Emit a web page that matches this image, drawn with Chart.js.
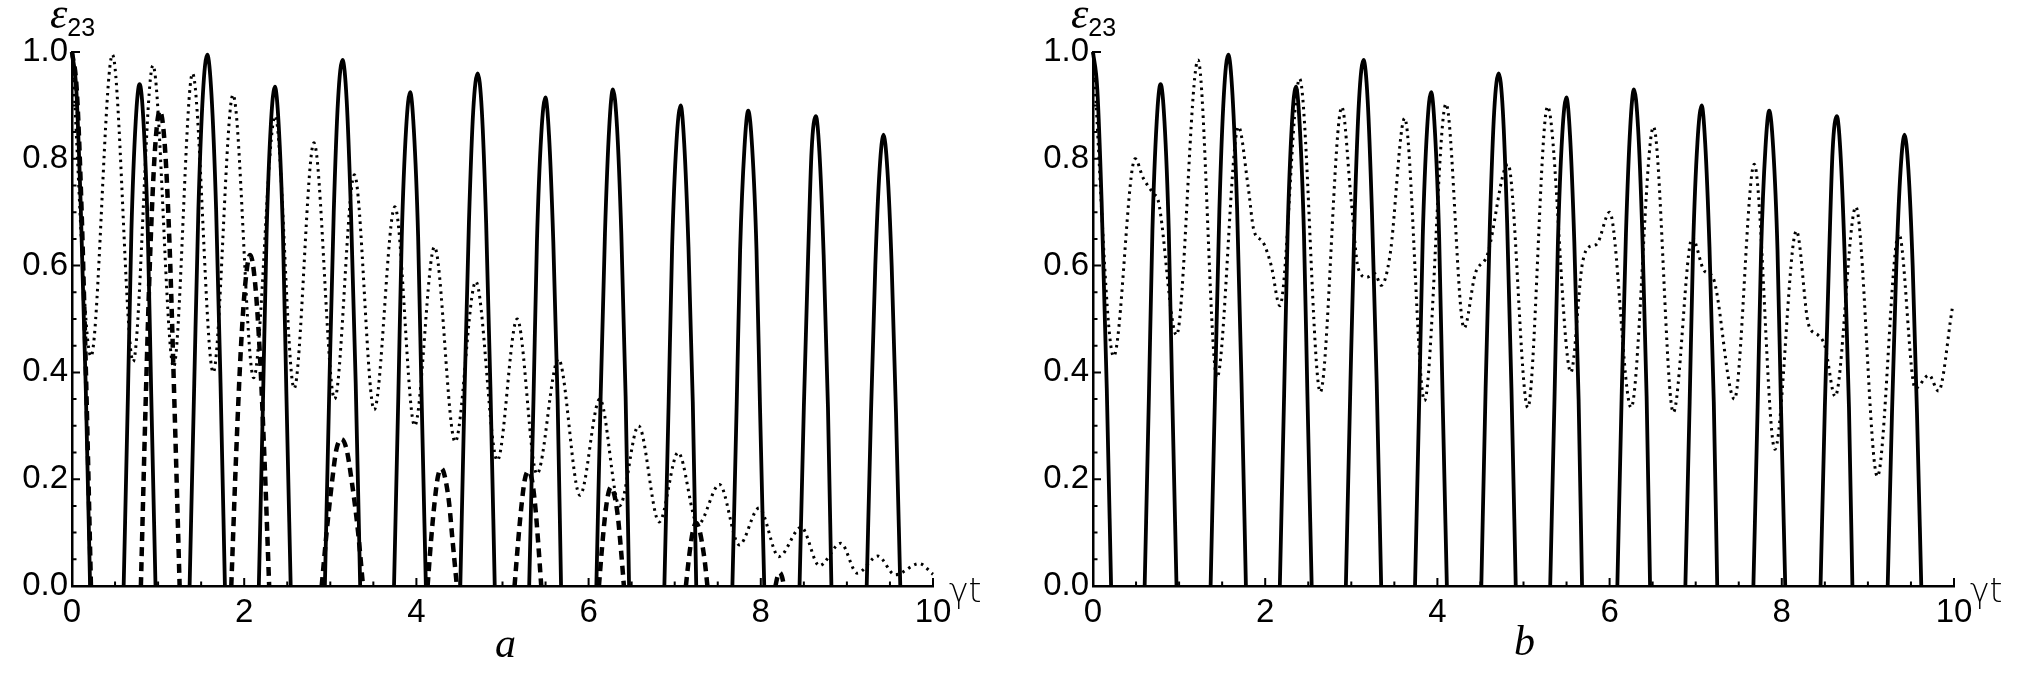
<!DOCTYPE html>
<html>
<head>
<meta charset="utf-8">
<script src="https://cdn.jsdelivr.net/npm/chart.js@4.4.1/dist/chart.umd.min.js"></script>
<style>
  html, body { margin: 0; padding: 0; background: #fff; }
  #wrap { position: relative; width: 2028px; height: 690px; overflow: hidden; }
  .panel { position: absolute; top: 0; width: 1014px; height: 690px; }
  .lbl { position: absolute; color: #000; white-space: nowrap; line-height: 1; }
  .eps { font-family: "Liberation Serif", serif; font-style: italic; font-size: 44px; }
  .sub { font-family: "Liberation Sans", Arial, sans-serif; font-size: 25px; position: relative; top: 8px; }
  .gt { font-family: "DejaVu Sans", sans-serif; font-weight: 200; font-size: 33px; }
  .pl { font-family: "Liberation Serif", serif; font-style: italic; font-size: 42px; }
</style>
</head>
<body>
<div id="wrap">
  <div class="panel" style="left:0"><canvas id="chartA" width="1014" height="690"></canvas></div>
  <div class="panel" style="left:1014px"><canvas id="chartB" width="1014" height="690"></canvas></div>

  <div class="lbl" style="left:50px;top:-8px"><span class="eps">ε</span><span class="sub">23</span></div>
  <div class="lbl gt" style="left:949px;top:574px">γt</div>
  <div class="lbl pl" style="left:495px;top:622px">a</div>

  <div class="lbl" style="left:1071px;top:-8px"><span class="eps">ε</span><span class="sub">23</span></div>
  <div class="lbl gt" style="left:1970px;top:574px">γt</div>
  <div class="lbl pl" style="left:1514px;top:620px">b</div>
</div>

<script>
// axes
const xTicks = [0, 2, 4, 6, 8, 10];
const yTicks = [0, 0.2, 0.4, 0.6, 0.8, 1.0];

// solid curve (same in a and b); null splits the arcs
const solidT = [
  0, 0.05, 0.10, 0.16, 0.21, 0.40,
  0.60, 0.65, 0.69, 0.74, 0.785, 0.83, 0.88, 0.92, 0.97, 1.17,
  1.366, 1.42, 1.468, 1.52, 1.571, 1.62, 1.674, 1.725, 1.776, 1.97,
  2.17, 2.22, 2.26, 2.31, 2.356, 2.40, 2.45, 2.49, 2.54, 2.74,
  2.937, 2.99, 3.04, 3.09, 3.142, 3.19, 3.24, 3.295, 3.347, 3.54,
  3.74, 3.79, 3.83, 3.88, 3.927, 3.97, 4.02, 4.06, 4.11, 4.31,
  4.51, 4.56, 4.61, 4.66, 4.712, 4.76, 4.81, 4.86, 4.91, 5.11,
  5.31, 5.36, 5.40, 5.45, 5.498, 5.54, 5.59, 5.64, 5.68, 5.89,
  6.09, 6.14, 6.19, 6.24, 6.283, 6.33, 6.38, 6.43, 6.47, 6.68,
  6.88, 6.93, 6.97, 7.02, 7.069, 7.11, 7.16, 7.21, 7.25, 7.46,
  7.67, 7.72, 7.76, 7.81, 7.854, 7.90, 7.95, 7.99, 8.04, 8.25,
  8.45, 8.50, 8.55, 8.59, 8.639, 8.68, 8.73, 8.78, 8.82, 9.03,
  9.23, 9.28, 9.33, 9.38, 9.425, 9.47, 9.52, 9.57, 9.62
];
const solidE = [
  1.0, 0.93, 0.72, 0.37, 0, null,
  0, 0.36, 0.665, 0.87, 0.94, 0.87, 0.665, 0.36, 0, null,
  0, 0.38, 0.705, 0.92, 0.995, 0.92, 0.705, 0.38, 0, null,
  0, 0.36, 0.66, 0.865, 0.935, 0.865, 0.66, 0.36, 0, null,
  0, 0.38, 0.70, 0.91, 0.985, 0.91, 0.70, 0.38, 0, null,
  0, 0.355, 0.655, 0.855, 0.925, 0.855, 0.655, 0.355, 0, null,
  0, 0.37, 0.68, 0.89, 0.96, 0.89, 0.68, 0.37, 0, null,
  0, 0.35, 0.645, 0.845, 0.915, 0.845, 0.645, 0.35, 0, null,
  0, 0.355, 0.66, 0.86, 0.93, 0.86, 0.66, 0.355, 0, null,
  0, 0.345, 0.635, 0.83, 0.90, 0.83, 0.635, 0.345, 0, null,
  0, 0.34, 0.63, 0.82, 0.89, 0.82, 0.63, 0.34, 0, null,
  0, 0.335, 0.62, 0.815, 0.88, 0.815, 0.62, 0.335, 0, null,
  0, 0.325, 0.60, 0.78, 0.845, 0.78, 0.60, 0.325, 0
];

// dashed curve, panel a only
const dashedT = [
  0, 0.055, 0.11, 0.165, 0.22, 0.5,
  0.80, 0.855, 0.91, 0.965, 1.02, 1.08, 1.135, 1.19, 1.25, 1.5,
  1.85, 1.905, 1.96, 2.015, 2.07, 2.125, 2.18, 2.235, 2.29, 2.6,
  2.90, 2.96, 3.02, 3.07, 3.13, 3.19, 3.25, 3.32, 3.38, 3.8,
  4.13, 4.17, 4.21, 4.25, 4.29, 4.33, 4.38, 4.42, 4.47, 4.8,
  5.14, 5.18, 5.22, 5.26, 5.30, 5.34, 5.38, 5.415, 5.45, 5.8,
  6.12, 6.155, 6.19, 6.225, 6.26, 6.30, 6.34, 6.375, 6.41, 6.8,
  7.13, 7.16, 7.19, 7.22, 7.25, 7.28, 7.315, 7.35, 7.38, 7.8,
  8.17, 8.195, 8.22, 8.245, 8.27
];
const dashedE = [
  1.0, 0.93, 0.71, 0.38, 0, null,
  0, 0.34, 0.63, 0.82, 0.89, 0.82, 0.63, 0.34, 0, null,
  0, 0.24, 0.44, 0.57, 0.62, 0.57, 0.44, 0.24, 0, null,
  0, 0.105, 0.195, 0.255, 0.275, 0.255, 0.195, 0.105, 0, null,
  0, 0.085, 0.155, 0.205, 0.22, 0.205, 0.155, 0.085, 0, null,
  0, 0.08, 0.15, 0.20, 0.215, 0.20, 0.15, 0.08, 0, null,
  0, 0.07, 0.13, 0.17, 0.185, 0.17, 0.13, 0.07, 0, null,
  0, 0.045, 0.083, 0.109, 0.118, 0.109, 0.083, 0.045, 0, null,
  0, 0.018, 0.025, 0.018, 0
];

// dotted curve, panel a
const dottedTa = [
  0, 0.22, 0.47, 0.71, 0.94, 1.18, 1.40, 1.64, 1.87, 2.11, 2.36, 2.58, 2.81, 3.05,
  3.28, 3.51, 3.75, 3.98, 4.21, 4.45, 4.69, 4.94, 5.17, 5.40, 5.65, 5.90, 6.13, 6.36,
  6.58, 6.82, 7.04, 7.27, 7.52, 7.75, 7.98, 8.21, 8.47, 8.68, 8.93, 9.12, 9.36, 9.56,
  9.84, 10
];
const dottedEa = [
  1.0, 0.43, 0.995, 0.42, 0.975, 0.41, 0.96, 0.40, 0.92, 0.39, 0.88, 0.37, 0.83, 0.35,
  0.77, 0.33, 0.71, 0.30, 0.635, 0.27, 0.57, 0.235, 0.50, 0.21, 0.425, 0.17, 0.35, 0.15,
  0.30, 0.12, 0.25, 0.115, 0.19, 0.077, 0.146, 0.055, 0.11, 0.038, 0.08, 0.024, 0.056, 0.021,
  0.042, 0.022
];

// dotted curve, panel b
const dottedTb = [
  0, 0.24, 0.49, 0.58, 0.70, 0.76, 0.97, 1.22, 1.44, 1.69, 1.80, 1.87, 1.97, 2.07, 2.17,
  2.40, 2.64, 2.89, 3.0, 3.08, 3.18, 3.27, 3.35, 3.45, 3.62, 3.85, 4.10, 4.31, 4.44, 4.58,
  4.82, 5.05, 5.28, 5.55, 5.68, 5.76, 5.85, 6.0, 6.25, 6.51, 6.74, 6.96, 7.10, 7.20, 7.45,
  7.68, 7.92, 8.17, 8.31, 8.42, 8.50, 8.62, 8.86, 9.11, 9.36, 9.55, 9.71, 9.82, 9.98
];
const dottedEb = [
  1.0, 0.43, 0.80, 0.765, 0.735, 0.72, 0.47, 0.985, 0.39, 0.86, 0.75, 0.665, 0.645, 0.60, 0.525,
  0.95, 0.363, 0.897, 0.72, 0.595, 0.578, 0.585, 0.563, 0.62, 0.876, 0.347, 0.903, 0.483, 0.585, 0.62,
  0.79, 0.334, 0.898, 0.40, 0.60, 0.635, 0.64, 0.70, 0.334, 0.86, 0.325, 0.652, 0.59, 0.578, 0.35,
  0.79, 0.256, 0.665, 0.49, 0.47, 0.45, 0.355, 0.71, 0.205, 0.66, 0.37, 0.395, 0.365, 0.52
];

const xMinorStep = 0.5;
const yMinorStep = 0.05;

function pts(ts, es) {
  return ts.map((t, i) => ({ x: t, y: es[i] }));
}

// line styles
function solidSet(data) {
  return { data, borderColor: '#000', borderWidth: 3.8, pointRadius: 0,
           cubicInterpolationMode: 'monotone', clip: false };
}
function dashedSet(data) {
  return { data, borderColor: '#000', borderWidth: 4.5, borderDash: [9, 6], pointRadius: 0,
           cubicInterpolationMode: 'monotone', clip: false };
}
function dottedSet(data) {
  return { data, borderColor: '#000', borderWidth: 3, borderDash: [2.5, 4.5], pointRadius: 0,
           cubicInterpolationMode: 'monotone', clip: false };
}

// small ticks drawn inward, Mathematica-like
const innerTicks = {
  id: 'innerTicks',
  beforeDatasetsDraw(chart) {
    const { ctx, scales: { x, y } } = chart;
    const x0 = x.getPixelForValue(0), y0 = y.getPixelForValue(0);
    ctx.save();
    ctx.strokeStyle = '#000';
    ctx.lineWidth = 2;
    ctx.beginPath();
    for (let k = 0; k <= 20; k++) {
      const v = k * xMinorStep;
      const px = x.getPixelForValue(v);
      const len = xTicks.includes(v) ? 8 : 4.5;
      ctx.moveTo(px, y0);
      ctx.lineTo(px, y0 - len);
    }
    for (let k = 0; k <= 20; k++) {
      const v = +(k * yMinorStep).toFixed(2);
      const py = y.getPixelForValue(v);
      const len = yTicks.some(t => Math.abs(t - v) < 1e-9) ? 8 : 4.5;
      ctx.moveTo(x0, py);
      ctx.lineTo(x0 + len, py);
    }
    ctx.stroke();
    ctx.restore();
  }
};

const tickFont = { family: '"Liberation Sans", Arial, sans-serif', size: 33 };

function makeChart(id, datasets, yWidth, rightPad) {
  return new Chart(document.getElementById(id), {
    type: 'line',
    data: { datasets },
    options: {
      responsive: false,
      animation: false,
      events: [],
      layout: { padding: { top: 52, right: rightPad, bottom: 0, left: 0 } },
      plugins: { legend: { display: false }, tooltip: { enabled: false } },
      scales: {
        x: {
          type: 'linear', min: 0, max: 10,
          afterBuildTicks: s => { s.ticks = xTicks.map(v => ({ value: v })); },
          afterFit: s => { s.height = 104; },
          grid: { display: false, drawTicks: false },
          border: { display: true, color: '#000', width: 2.5 },
          ticks: { font: tickFont, color: '#000', padding: 7, maxRotation: 0,
                   callback: v => String(v) }
        },
        y: {
          type: 'linear', min: 0, max: 1,
          afterBuildTicks: s => { s.ticks = yTicks.map(v => ({ value: v })); },
          afterFit: s => { s.width = yWidth; },
          grid: { display: false, drawTicks: false },
          border: { display: true, color: '#000', width: 2.5 },
          ticks: { font: tickFont, color: '#000', padding: 4,
                   callback: v => Number(v).toFixed(1) }
        }
      }
    },
    plugins: [innerTicks]
  });
}

makeChart('chartA', [
  solidSet(pts(solidT, solidE)),
  dashedSet(pts(dashedT, dashedE)),
  dottedSet(pts(dottedTa, dottedEa))
], 72, 81);

makeChart('chartB', [
  solidSet(pts(solidT, solidE)),
  dottedSet(pts(dottedTb, dottedEb))
], 79, 74);
</script>
</body>
</html>
